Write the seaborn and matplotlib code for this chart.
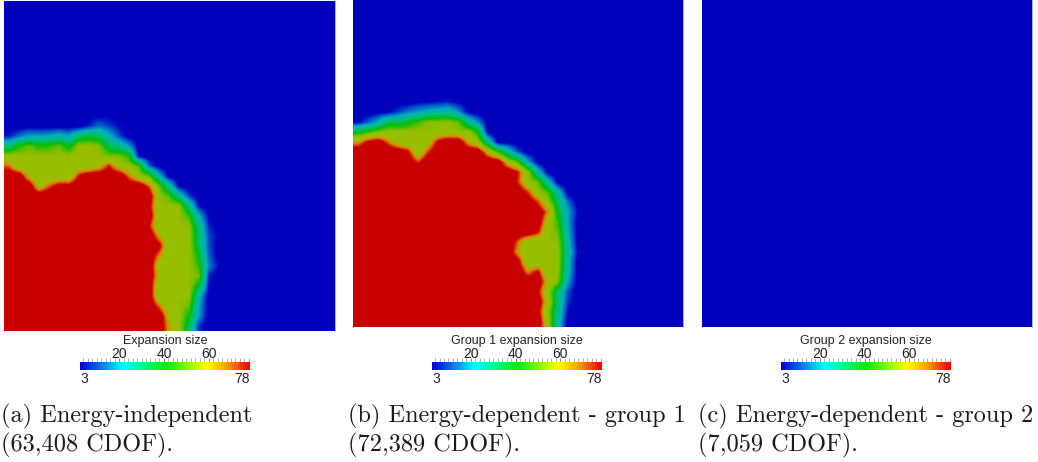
import numpy as np
import matplotlib
matplotlib.use('Agg')
import matplotlib.pyplot as plt
import seaborn as sns
from matplotlib.colors import LinearSegmentedColormap

# Data: expansion size on a 33x33 mesh, rows listed bottom-up, trailing cells are all 3
group_a_rows = [
    [78]*16 + [62, 52, 34, 9],
    [78]*16 + [58, 52, 40, 18],
    [78]*15 + [66, 52, 52, 47, 19],
    [78]*15 + [52, 52, 52, 52, 23],
    [78]*15 + [52, 52, 52, 52, 38, 6],
    [78]*15 + [59, 52, 52, 52, 48, 8],
    [78]*15 + [56, 52, 52, 52, 43, 15, 6],
    [78]*15 + [64, 52, 52, 52, 39, 13],
    [78]*15 + [74, 52, 52, 52, 33, 11],
    [78]*15 + [62, 52, 52, 52, 32, 11, 5],
    [78]*14 + [71, 52, 52, 52, 51, 29, 8],
    [78]*15 + [52, 52, 52, 43, 21, 5],
    [78]*14 + [74, 52, 52, 52, 30, 6],
    [78]*15 + [52, 45, 27, 10],
    [78, 78, 78, 56, 66, 74, 74] + [78]*7 + [66, 48, 27, 5],
    [78, 78, 58, 52, 52, 52, 52, 71, 78, 78, 78, 78, 65, 52, 47, 23],
    [66] + [52]*8 + [58, 70, 56, 52, 45, 13],
    [52]*10 + [48, 48, 42, 4],
    [30, 41, 47, 41, 42, 47, 37, 52, 52, 50, 34, 28, 18],
    [7, 14, 19, 19, 20, 23, 19, 32, 36, 32, 22, 11],
    [3, 3, 3, 3, 3, 3, 3, 3, 8, 14, 10, 6],
    [3, 3, 3, 3, 3, 3, 3, 3, 3, 5, 5],
]
group_b_rows = [
    [78]*19 + [54, 25],
    [78]*18 + [74, 50, 28, 6],
    [78]*19 + [56, 31, 9],
    [78]*18 + [72, 52, 31, 11],
    [78]*19 + [58, 49, 18],
    [78]*17 + [64, 72, 52, 51, 23],
    [78]*16 + [74, 52, 52, 52, 52, 23],
    [78]*16 + [62, 52, 52, 52, 52, 25, 6],
    [78]*16 + [66, 52, 52, 52, 50, 24],
    [78]*18 + [70, 52, 47, 21],
    [78]*19 + [55, 43, 19],
    [78]*19 + [64, 38, 19, 6],
    [78]*18 + [68, 52, 33, 14],
    [78]*17 + [68, 52, 44, 24],
    [78]*16 + [69, 52, 47, 25],
    [78]*16 + [70, 51, 24],
    [78]*6 + [68] + [78]*8 + [57, 45, 20],
    [78, 78, 78, 78, 78, 72, 52, 68, 78, 78, 78, 78, 78, 60, 44, 27, 11],
    [62, 72, 76, 66, 54, 52, 52, 56, 72, 78, 78, 62, 52, 29],
    [38, 43, 49, 52, 52, 52, 52, 52, 52, 54, 52, 52, 41],
    [5, 12, 20, 34, 33, 38, 44, 49, 50, 50, 47, 29, 16],
    [3, 3, 4, 5, 10, 15, 19, 22, 24, 26, 18, 5],
    [3, 3, 3, 3, 3, 3, 5, 6, 7, 8, 5],
]
group_c_rows = []

scale_values = list(range(3, 79))
scale_ticks = [20, 40, 60]
scale_minor = list(range(4, 79, 2))
scale_ends = ['3', '78']
titles = ['Expansion size', 'Group 1 expansion size', 'Group 2 expansion size']
captions = [['(a) Energy-independent', '(63,408 CDOF).'],
            ['(b) Energy-dependent - group 1', '(72,389 CDOF).'],
            ['(c) Energy-dependent - group 2', '(7,059 CDOF).']]

MESH = 33
W, H = 1038, 462


def make_grid(rows):
    grid = np.full((MESH, MESH), 3.0)
    for i, row in enumerate(rows):
        grid[i, :len(row)] = row
    return np.flipud(grid)


def px_axes(fig, left, top, width, height):
    return fig.add_axes([left / W, 1 - (top + height) / H, width / W, height / H])


def ramp(name, stops):
    return LinearSegmentedColormap.from_list(
        name, [((v - 3) / 75, tuple(c / 255 for c in col)) for v, col in stops], N=512)


field_cmap = ramp('field', [(3, (0, 0, 186)), (6, (0, 6, 190)), (12, (0, 90, 200)), (20, (0, 175, 190)),
                            (30, (0, 190, 120)), (40, (0, 190, 10)), (49, (130, 190, 0)),
                            (52, (152, 190, 0)), (59, (155, 190, 0)), (64, (225, 135, 0)),
                            (71, (200, 0, 0)), (78, (200, 0, 0))])
scale_cmap = ramp('scale', [(3, (0, 0, 225)), (22, (0, 255, 255)), (41, (0, 240, 0)),
                            (59, (255, 255, 0)), (68, (255, 160, 0)), (78, (255, 0, 0))])

sns.set_theme(style='white')
plt.rcParams['font.family'] = ['Liberation Sans', 'DejaVu Sans']
fig = plt.figure(figsize=(W / 100, H / 100), dpi=100)

# Panels
panel_left = [4.5, 353.3, 702]
panel_top = [1, -3, -3]
bar_left = [80, 431.7, 780.7]
title_x = [165, 516.5, 866]
caption_x = [1, 348.5, 698]

for i, rows in enumerate([group_a_rows, group_b_rows, group_c_rows]):
    grid = make_grid(rows)
    ax = px_axes(fig, panel_left[i], panel_top[i], 330, 330)
    sns.heatmap(grid, cmap=field_cmap, vmin=3, vmax=78, cbar=False,
                xticklabels=False, yticklabels=False, ax=ax)
    # smooth shading between the mesh nodes
    ax.imshow(grid, cmap=field_cmap, vmin=3, vmax=78, interpolation='bilinear',
              interpolation_stage='data', extent=(0, MESH, MESH, 0), aspect='auto', zorder=3)
    ax.set_xlim(0, MESH)
    ax.set_ylim(MESH, 0)
    for side in ['left', 'right']:
        ax.spines[side].set_visible(True)
        ax.spines[side].set_color('#a0a0b8')
        ax.spines[side].set_linewidth(0.6)

    # Scale bar
    cax = px_axes(fig, bar_left[i], 362, 170, 8)
    sns.heatmap(np.array([scale_values]), cmap=scale_cmap, vmin=3, vmax=78, cbar=False,
                xticklabels=False, yticklabels=False, ax=cax)
    cax.xaxis.tick_top()
    cax.set_xticks([v - 2.5 for v in scale_ticks])
    cax.set_xticklabels([str(v) for v in scale_ticks], fontsize=10, color='#222222')
    cax.set_xticks([v - 2.5 for v in scale_minor], minor=True)
    cax.tick_params(axis='x', which='major', top=True, bottom=False, length=3, width=0.5,
                    pad=-2.5, color='#555555')
    cax.tick_params(axis='x', which='minor', top=True, bottom=False, length=3, width=0.4,
                    color='#777777')
    fig.text((bar_left[i] + 0.5) / W, 1 - 383 / H, scale_ends[0], fontsize=10, color='#222222')
    fig.text((bar_left[i] + 170) / W, 1 - 383 / H, scale_ends[1], fontsize=10, color='#222222', ha='right')
    fig.text(title_x[i] / W, 1 - 344 / H, titles[i], fontsize=9, color='#222222', ha='center')

    # Captions
    for j, line in enumerate(captions[i]):
        fig.text(caption_x[i] / W, 1 - (422 + 29.5 * j) / H, line, fontsize=17.5, color='#1a1a1a',
                 family=['cmr10', 'DejaVu Serif'])

fig.savefig('out.png', dpi=100, facecolor='white')
